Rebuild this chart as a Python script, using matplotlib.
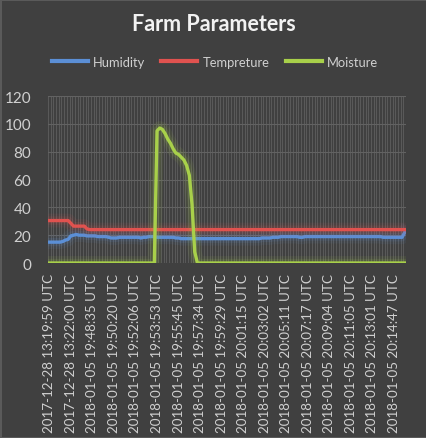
import numpy as np
import matplotlib
matplotlib.use("Agg")
import matplotlib.pyplot as plt
import matplotlib.patheffects as pe

# values, one per sample (133 samples)
humidity = [
    15, 15, 15, 15, 15, 15.5, 16.5, 17, 19.5, 20,
    20.5, 20, 20, 20, 19.5, 19.5, 19.5, 19.5, 19, 19,
    19, 19, 18.5, 18, 18, 18, 18.5, 18.5, 18.5, 18.5,
    18.5, 18.5, 18.5, 18.5, 18, 18.5, 18.5, 19, 19, 19,
    18.5, 18.5, 18.5, 18.5, 18.5, 18.5, 18.5, 18, 18, 17.5,
    17.5, 17.5, 17.5, 17.5, 17.5, 17.5, 17.5, 17.5, 17.5, 17.5,
    17.5, 17.5, 17.5, 17.5, 17.5, 17.5, 17.5, 17.5, 17.5, 17.5,
    17.5, 17.5, 17.5, 17.5, 17.5, 17.5, 17.5, 17.5, 17.5, 18,
    18, 18, 18, 18.5, 18.5, 18.5, 19, 19, 19, 19,
    19, 19, 19, 18.5, 18.5, 19, 19, 19, 19, 19,
    19, 19, 19, 19, 19, 19, 19, 19, 19, 19,
    19, 19, 19, 19, 19, 19, 19, 19, 19, 19,
    19, 19, 19, 19, 18.5, 18.5, 18.5, 18.5, 18.5, 18.5,
    18.5, 18.5, 22,
]

tempreture = [
    30.5, 30.5, 30.5, 30.5, 30.5, 30.5, 30.5, 30.5, 28.5, 26.5,
    26.5, 26.5, 26.5, 26.5, 24.5, 24, 24, 24, 24, 24,
    24, 24, 24, 24, 24, 24, 24, 24, 24, 24,
    24, 24, 24, 24, 24, 24, 24, 24, 24, 24,
    24, 24, 24, 24, 24, 24, 24, 24, 24, 24,
    24, 24, 24, 24, 24, 24, 24, 24, 24, 24,
    24, 24, 24, 24, 24, 24, 24, 24, 24, 24,
    24, 24, 24, 24, 24, 24, 24, 24, 24, 24,
    24, 24, 24, 24, 24, 24, 24, 24, 24, 24,
    24, 24, 24, 24, 24, 24, 24, 24, 24, 24,
    24, 24, 24, 24, 24, 24, 24, 24, 24, 24,
    24, 24, 24, 24, 24, 24, 24, 24, 24, 24,
    24, 24, 24, 24, 24, 24, 24, 24, 24, 24,
    24, 24, 24,
]

moisture = [
    0, 0, 0, 0, 0, 0, 0, 0, 0, 0,
    0, 0, 0, 0, 0, 0, 0, 0, 0, 0,
    0, 0, 0, 0, 0, 0, 0, 0, 0, 0,
    0, 0, 0, 0, 0, 0, 0, 0, 0, 0,
    95, 97, 96, 93, 89, 86, 82, 79, 78, 76,
    74, 70, 63, 42, 8, 0, 0, 0, 0, 0,
    0, 0, 0, 0, 0, 0, 0, 0, 0, 0,
    0, 0, 0, 0, 0, 0, 0, 0, 0, 0,
    0, 0, 0, 0, 0, 0, 0, 0, 0, 0,
    0, 0, 0, 0, 0, 0, 0, 0, 0, 0,
    0, 0, 0, 0, 0, 0, 0, 0, 0, 0,
    0, 0, 0, 0, 0, 0, 0, 0, 0, 0,
    0, 0, 0, 0, 0, 0, 0, 0, 0, 0,
    0, 0, 0,
]

tick_labels = [
    "2017-12-28 13:19:59 UTC", "2017-12-28 13:22:00 UTC",
    "2018-01-05 19:48:35 UTC", "2018-01-05 19:50:20 UTC",
    "2018-01-05 19:52:06 UTC", "2018-01-05 19:53:53 UTC",
    "2018-01-05 19:55:45 UTC", "2018-01-05 19:57:34 UTC",
    "2018-01-05 19:59:29 UTC", "2018-01-05 20:01:15 UTC",
    "2018-01-05 20:03:02 UTC", "2018-01-05 20:05:11 UTC",
    "2018-01-05 20:07:17 UTC", "2018-01-05 20:09:04 UTC",
    "2018-01-05 20:11:05 UTC", "2018-01-05 20:13:01 UTC",
    "2018-01-05 20:14:47 UTC",
]
label_step = 8

bg = "#404040"
text_col = "#d0d0d0"
series = [
    ("Humidity", humidity, "#5b8fd6"),
    ("Tempreture", tempreture, "#e0524f"),
    ("Moisture", moisture, "#a8d04a"),
]

plt.rcParams['font.family'] = ['Lato', 'DejaVu Sans']

fig = plt.figure(figsize=(4.27, 4.39), dpi=100, facecolor=bg)
fig.patch.set_edgecolor("#5a5a5a")
fig.patch.set_linewidth(2)
ax = fig.add_axes([0.1124, 0.3986, 0.8386, 0.3804], facecolor=bg)

x = np.arange(len(humidity))
for name, vals, col in series:
    ax.plot(x, vals, color=col, lw=2.4, label=name, solid_joinstyle="round",
            path_effects=[pe.Stroke(linewidth=10, foreground=col, alpha=0.08),
                          pe.Stroke(linewidth=6, foreground=col, alpha=0.12),
                          pe.Normal()])

ax.set_xlim(-0.5, len(humidity) - 0.5)
ax.set_ylim(0, 120)
ax.set_yticks(range(0, 121, 20))
ax.set_xticks(np.arange(0, len(humidity), label_step))
ax.set_xticklabels(tick_labels, rotation=90, fontsize=9.6, color=text_col)
ax.set_xticks(np.arange(-0.5, len(humidity), 1), minor=True)
ax.tick_params(axis="y", labelsize=11, colors=text_col, length=0, pad=12)
ax.tick_params(axis="x", which="both", length=0, pad=7)
ax.grid(axis="y", which="major", color="#626262", lw=0.8)
ax.grid(axis="x", which="minor", color="#5f5f5f", lw=0.6)
for s in ax.spines.values():
    s.set_visible(False)

fig.text(0.5, 0.945, "Farm Parameters", ha="center", va="center",
         fontsize=15.5, fontweight="bold", color="#f2f2f2")
leg = fig.legend(loc="center", bbox_to_anchor=(0.503, 0.857), ncol=3,
                 frameon=False, fontsize=9.3, handlelength=2.8,
                 columnspacing=1.25, handletextpad=0.4)
for t in leg.get_texts():
    t.set_color(text_col)
for h in leg.legend_handles:
    h.set_path_effects([])
    h.set_linewidth(3)

fig.savefig("out.png", dpi=100, facecolor=bg)
